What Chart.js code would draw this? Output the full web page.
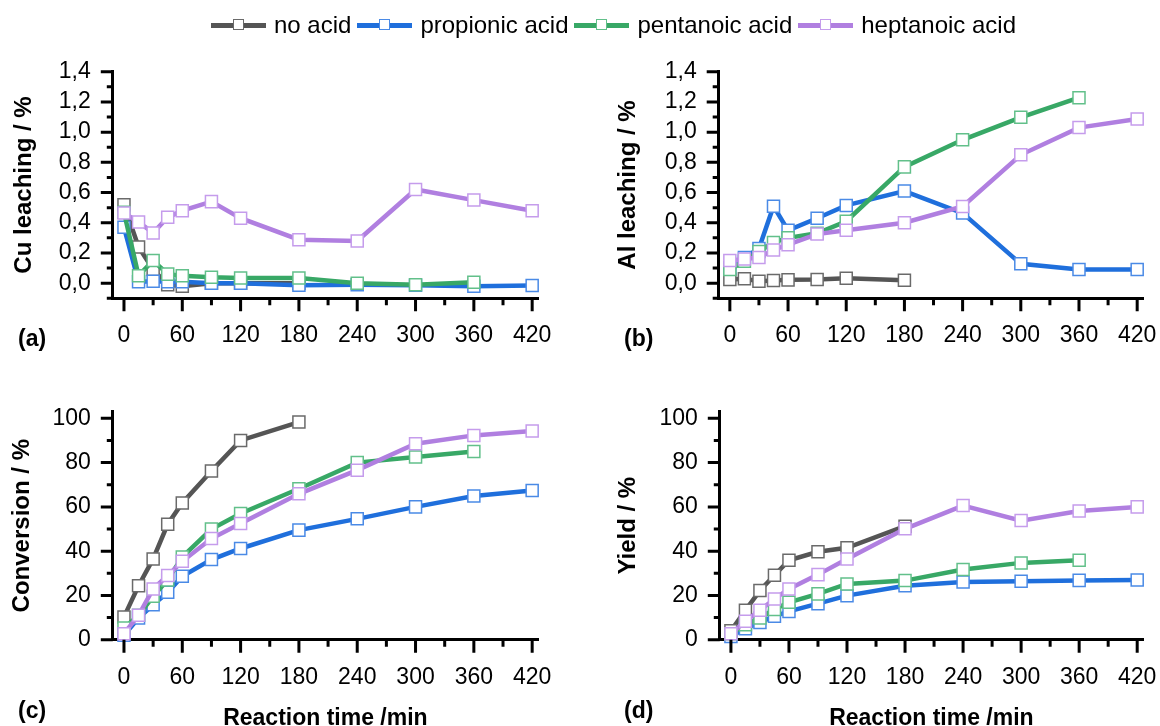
<!DOCTYPE html>
<html>
<head>
<meta charset="utf-8">
<script src="https://cdn.jsdelivr.net/npm/chart.js@4.4.1/dist/chart.umd.min.js"></script>
<style>
  html, body { margin: 0; padding: 0; background: #fff; overflow: hidden; }
  #wrap { position: relative; width: 1160px; height: 726px; overflow: hidden; font-family: "Liberation Sans", Arial, sans-serif; color: #000; }
  #wrap canvas { position: absolute; left: 0; top: 0; }
  .tag { position: absolute; font-weight: bold; font-size: 23px; line-height: 23px; }
  #legend { position: absolute; left: 211px; top: 11px; height: 28px; display: flex; align-items: center; font-size: 24px; }
  .item { display: flex; align-items: center; }
  .sample { position: relative; width: 55px; height: 5px; margin-right: 8px; }
  .sample i { position: absolute; left: 50%; top: 50%; width: 9px; height: 9px; margin: -6px 0 0 -6px; background: #fff; border: 1.5px solid; }
  .item span { margin-right: 6px; }
</style>
</head>
<body>
<div id="wrap">
  <canvas id="cu" width="1160" height="760"></canvas>
  <canvas id="al" width="1160" height="760"></canvas>
  <canvas id="conv" width="1160" height="760"></canvas>
  <canvas id="yld" width="1160" height="760"></canvas>
  <div id="legend"></div>
  <div class="tag" style="left:18px;top:327px">(a)</div>
  <div class="tag" style="left:624px;top:327px">(b)</div>
  <div class="tag" style="left:18px;top:699px">(c)</div>
  <div class="tag" style="left:624px;top:699px">(d)</div>
</div>
<script>
// reaction times (min); shorter series stop early
const times = [0, 15, 30, 45, 60, 90, 120, 180, 240, 300, 360, 420];
const seriesNames = ['no acid', 'propionic acid', 'pentanoic acid', 'heptanoic acid'];
const lineColors = ['#555555', '#1f6fdc', '#38a866', '#b07fe0'];
const markerColors = ['#6a6a6a', '#4a8ae6', '#62c08a', '#c59cec'];

const xMajorTicks = [0, 60, 120, 180, 240, 300, 360, 420];
const xMinorTicks = [30, 90, 150, 210, 270, 330, 390];
const leachMajorTicks = [0, 0.2, 0.4, 0.6, 0.8, 1.0, 1.2, 1.4];
const leachMinorTicks = [-0.1, 0.1, 0.3, 0.5, 0.7, 0.9, 1.1, 1.3];
const pctMajorTicks = [0, 20, 40, 60, 80, 100];
const pctMinorTicks = [10, 30, 50, 70, 90];

// (a) Cu leaching / %
const cuNoAcid = [0.52, 0.24, 0.09, -0.01, -0.02, 0.00, 0.00, 0.00];
const cuPropionic = [0.37, 0.01, 0.013, 0.01, 0.01, 0.00, 0.00, -0.013, -0.01, -0.013, -0.02, -0.015];
const cuPentanoic = [0.47, 0.05, 0.15, 0.06, 0.05, 0.04, 0.035, 0.035, 0.00, -0.01, 0.007];
const cuHeptanoic = [0.465, 0.405, 0.333, 0.436, 0.48, 0.54, 0.43, 0.288, 0.28, 0.62, 0.55, 0.48];

// (b) Al leaching / %
const alNoAcid = [0.024, 0.03, 0.013, 0.018, 0.022, 0.024, 0.033, 0.02];
const alPropionic = [0.10, 0.17, 0.23, 0.51, 0.35, 0.43, 0.515, 0.61, 0.464, 0.128, 0.09, 0.09];
const alPentanoic = [0.09, 0.145, 0.21, 0.27, 0.30, 0.33, 0.41, 0.77, 0.949, 1.098, 1.228];
const alHeptanoic = [0.15, 0.16, 0.17, 0.22, 0.255, 0.325, 0.35, 0.40, 0.508, 0.85, 1.03, 1.087];

// (c) Conversion / %
const convNoAcid = [10.3, 24.4, 36.5, 52.2, 61.8, 76.2, 90.0, 98.3];
const convPropionic = [2, 9.8, 15.8, 21.4, 28.7, 36.2, 41.2, 49.5, 54.6, 60.0, 64.9, 67.4];
const convPentanoic = [5.3, 11, 19.6, 27, 37.4, 50, 57, 68.2, 80, 82.5, 85];
const convHeptanoic = [2.7, 11, 22.9, 29, 35.4, 45.7, 52.5, 65.9, 76.6, 88.5, 92.3, 94.3];

// (d) Yield / %
const yieldNoAcid = [4, 13.3, 22.2, 29.1, 35.9, 39.7, 41.5, 51.3];
const yieldPropionic = [1.5, 5, 7.8, 10.6, 12.8, 16.3, 19.9, 24.4, 26.1, 26.4, 26.8, 27.0];
const yieldPentanoic = [2.7, 6.8, 9.8, 13.6, 16.9, 20.7, 25.2, 26.7, 31.7, 34.7, 35.9];
const yieldHeptanoic = [2.7, 8.3, 13.3, 18.4, 22.9, 29.4, 36.5, 50.1, 60.6, 53.8, 58.1, 60.0];

const CW = 1160, CH = 760;
const FONT = '"Liberation Sans", Arial, sans-serif';

// draws major / minor tick marks outward from both axes
const tickMarks = {
    id: 'tickMarks',
    afterDraw(chart) {
        const ctx = chart.ctx;
        const xs = chart.scales.x, ys = chart.scales.y;
        const area = chart.chartArea;
        ctx.save();
        ctx.strokeStyle = '#000';
        ctx.lineWidth = 3;
        ctx.beginPath();
        xs.ticks.forEach(t => {
            const px = xs.getPixelForValue(t.value);
            const len = t.label !== '' ? 13 : 7;
            ctx.moveTo(px, area.bottom);
            ctx.lineTo(px, area.bottom + len);
        });
        ys.ticks.forEach(t => {
            const py = ys.getPixelForValue(t.value);
            const len = t.label !== '' ? 12 : 6;
            ctx.moveTo(area.left, py);
            ctx.lineTo(area.left - len, py);
        });
        ctx.stroke();
        ctx.restore();
    }
};

function makePanel(id, box, series, yAxis, xTitle) {
    const ctx = document.getElementById(id).getContext('2d');
    return new Chart(ctx, {
        type: 'line',
        data: {
            datasets: series.map((vals, i) => ({
                label: seriesNames[i],
                data: vals.map((v, j) => ({ x: times[j], y: v })),
                borderColor: lineColors[i],
                borderWidth: 4.5,
                pointStyle: 'rect',
                pointRadius: 8.5,
                pointHoverRadius: 8.5,
                pointBackgroundColor: '#fff',
                pointBorderColor: markerColors[i],
                pointBorderWidth: 1.5,
                tension: 0,
                clip: false,
                order: series.length - i
            }))
        },
        options: {
            responsive: false,
            animation: false,
            events: [],
            layout: {
                padding: { left: box.l - box.w, right: CW - box.r, top: box.t, bottom: CH - box.b - box.h }
            },
            plugins: { legend: { display: false }, tooltip: { enabled: false } },
            scales: {
                x: {
                    type: 'linear',
                    min: -11.5,
                    max: 426,
                    afterBuildTicks: s => {
                        s.ticks = xMajorTicks.concat(xMinorTicks).sort((a, b) => a - b).map(v => ({ value: v }));
                    },
                    afterFit: s => { s.height = box.h; s.paddingLeft = 0; s.paddingRight = 0; },
                    grid: { display: false, drawTicks: false },
                    border: { display: true, color: '#000', width: 3 },
                    ticks: {
                        autoSkip: false, maxRotation: 0, padding: 24, color: '#000',
                        font: { family: FONT, size: 23 },
                        callback: v => xMajorTicks.includes(v) ? String(v) : ''
                    },
                    title: xTitle ? {
                        display: true, text: xTitle, color: '#000', padding: 0,
                        font: { family: FONT, size: 23, weight: 'bold' }
                    } : { display: false }
                },
                y: {
                    min: yAxis.min,
                    max: yAxis.max,
                    afterBuildTicks: s => {
                        s.ticks = yAxis.major.concat(yAxis.minor).sort((a, b) => a - b).map(v => ({ value: v }));
                    },
                    afterFit: s => { s.width = box.w; s.paddingTop = 0; s.paddingBottom = 0; },
                    grid: { display: false, drawTicks: false },
                    border: { display: true, color: '#000', width: 3 },
                    ticks: {
                        autoSkip: false, padding: 22, color: '#000',
                        font: { family: FONT, size: 23 },
                        callback: v => yAxis.major.includes(v) ? yAxis.fmt(v) : ''
                    },
                    title: {
                        display: true, text: yAxis.title, color: '#000', padding: 0,
                        font: { family: FONT, size: 24, weight: 'bold' }
                    }
                }
            }
        },
        plugins: [tickMarks]
    });
}

const commaFmt = v => v.toFixed(1).replace('.', ',');
const intFmt = v => String(v);

makePanel('cu', { l: 112.8, r: 538, t: 71.7, b: 298.3, w: 103, h: 60 },
    [cuNoAcid, cuPropionic, cuPentanoic, cuHeptanoic],
    { min: -0.1, max: 1.4, major: leachMajorTicks, minor: leachMinorTicks, fmt: commaFmt, title: 'Cu leaching / %' });

makePanel('al', { l: 718.7, r: 1143, t: 71.7, b: 298.3, w: 105, h: 60 },
    [alNoAcid, alPropionic, alPentanoic, alHeptanoic],
    { min: -0.1, max: 1.4, major: leachMajorTicks, minor: leachMinorTicks, fmt: commaFmt, title: 'Al leaching / %' });

makePanel('conv', { l: 112.8, r: 538, t: 411.7, b: 639.7, w: 104.5, h: 93 },
    [convNoAcid, convPropionic, convPentanoic, convHeptanoic],
    { min: 0, max: 103, major: pctMajorTicks, minor: pctMinorTicks, fmt: intFmt, title: 'Conversion / %' },
    'Reaction time /min');

makePanel('yld', { l: 719.8, r: 1143, t: 411.7, b: 639.7, w: 106, h: 93 },
    [yieldNoAcid, yieldPropionic, yieldPentanoic, yieldHeptanoic],
    { min: 0, max: 103, major: pctMajorTicks, minor: pctMinorTicks, fmt: intFmt, title: 'Yield / %' },
    'Reaction time /min');

// shared legend
const legend = document.getElementById('legend');
seriesNames.forEach((name, i) => {
    const item = document.createElement('div');
    item.className = 'item';
    item.innerHTML = `<div class="sample" style="background:${lineColors[i]}"><i style="border-color:${markerColors[i]}"></i></div><span>${name}</span>`;
    legend.appendChild(item);
});
</script>
</body>
</html>
